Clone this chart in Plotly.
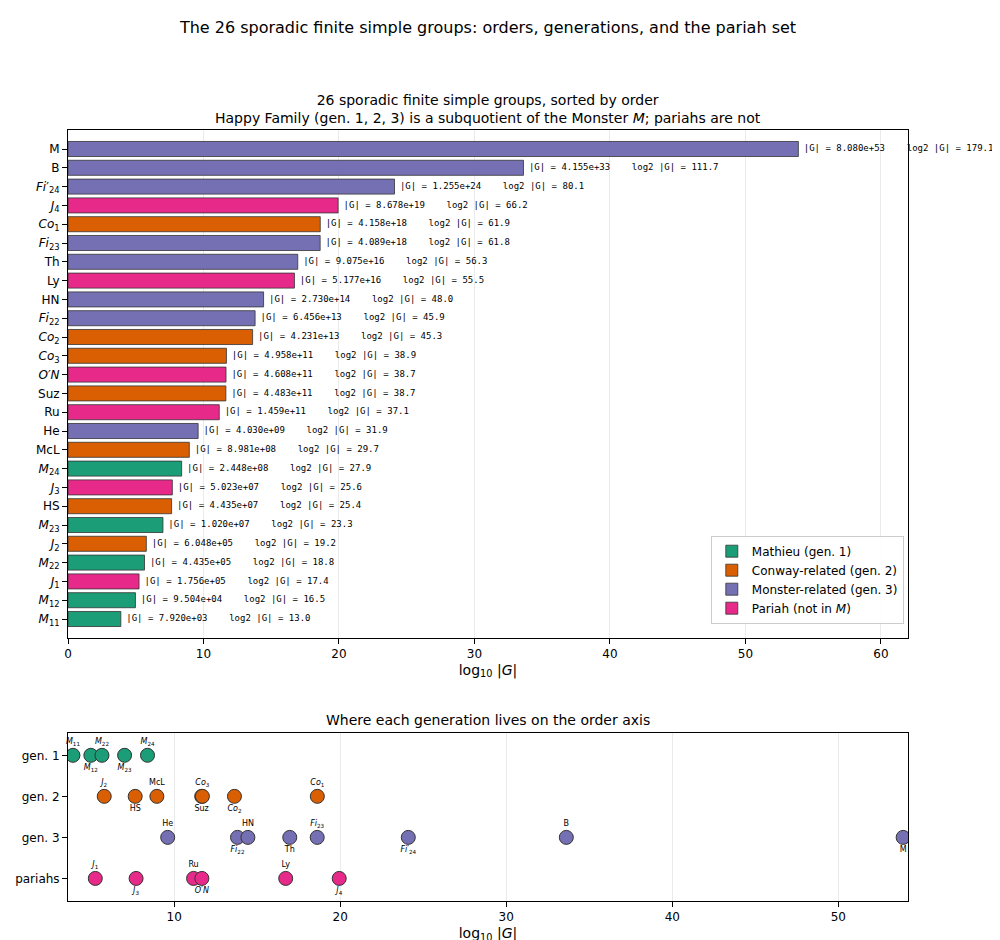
import numpy as np
import pandas as pd
import plotly.graph_objects as go

# sporadic groups: label, order, generation
rows = [
    ("M", "M", 8.080e53, 3), ("B", "B", 4.155e33, 3),
    ("Fi24", "<i>Fi</i>′<sub>24</sub>", 1.255e24, 3), ("J4", "<i>J</i><sub>4</sub>", 8.678e19, 0),
    ("Co1", "<i>Co</i><sub>1</sub>", 4.158e18, 2), ("Fi23", "<i>Fi</i><sub>23</sub>", 4.089e18, 3),
    ("Th", "Th", 9.075e16, 3), ("Ly", "Ly", 5.177e16, 0),
    ("HN", "HN", 2.730e14, 3), ("Fi22", "<i>Fi</i><sub>22</sub>", 6.456e13, 3),
    ("Co2", "<i>Co</i><sub>2</sub>", 4.231e13, 2), ("Co3", "<i>Co</i><sub>3</sub>", 4.958e11, 2),
    ("ON", "<i>O′N</i>", 4.608e11, 0), ("Suz", "Suz", 4.483e11, 2),
    ("Ru", "Ru", 1.459e11, 0), ("He", "He", 4.030e9, 3),
    ("McL", "McL", 8.981e8, 2), ("M24", "<i>M</i><sub>24</sub>", 2.448e8, 1),
    ("J3", "<i>J</i><sub>3</sub>", 5.023e7, 0), ("HS", "HS", 4.435e7, 2),
    ("M23", "<i>M</i><sub>23</sub>", 1.020e7, 1), ("J2", "<i>J</i><sub>2</sub>", 6.048e5, 2),
    ("M22", "<i>M</i><sub>22</sub>", 4.435e5, 1), ("J1", "<i>J</i><sub>1</sub>", 1.756e5, 0),
    ("M12", "<i>M</i><sub>12</sub>", 9.504e4, 1), ("M11", "<i>M</i><sub>11</sub>", 7.920e3, 1),
]
df = pd.DataFrame(rows, columns=["key", "label", "order", "gen"])
df["log10"] = np.log10(df["order"])
df["log2"] = np.log2(df["order"])

gens = {
    1: ("Mathieu (gen. 1)", "#1b9e77", "gen. 1"),
    2: ("Conway-related (gen. 2)", "#d95f02", "gen. 2"),
    3: ("Monster-related (gen. 3)", "#7570b3", "gen. 3"),
    0: ("Pariah (not in <i>M</i>)", "#e7298a", "pariahs"),
}
ypos = {1: 3, 2: 2, 3: 1, 0: 0}
sp = "\u00a0"

fig = go.Figure()

# ---- top panel: horizontal bars ----
for g in [1, 2, 3, 0]:
    d = df[df.gen == g]
    fig.add_trace(go.Bar(
        x=d["log10"], y=d["label"], orientation="h", name=gens[g][0],
        marker=dict(color=gens[g][1], line=dict(color="#333", width=0.8)),
        width=0.8, xaxis="x", yaxis="y",
    ))

texts = [f"|G| = {o:.3e}{sp*4}log2 |G| = {l:.1f}" for o, l in zip(df["order"], df["log2"])]
fig.add_trace(go.Scatter(
    x=df["log10"] + 0.4, y=df["label"], mode="text", text=texts,
    textposition="middle right", textfont=dict(family="DejaVu Sans Mono", size=9, color="black"),
    showlegend=False, cliponaxis=False, hoverinfo="skip", xaxis="x", yaxis="y",
))

# ---- bottom panel: dot strip ----
for g in [1, 2, 3, 0]:
    d = df[df.gen == g].sort_values("log10").reset_index(drop=True)
    y = [ypos[g]] * len(d)
    fig.add_trace(go.Scatter(
        x=d["log10"], y=y, mode="markers", showlegend=False,
        marker=dict(size=14, color=gens[g][1], line=dict(color="#333", width=1)),
        xaxis="x2", yaxis="y2",
    ))
    up = d.iloc[::2]
    dn = d.iloc[1::2]
    fig.add_trace(go.Scatter(
        x=up["log10"], y=[ypos[g] + 0.22] * len(up), mode="text", text=up["label"],
        textposition="top center", textfont=dict(size=8, color="black"),
        showlegend=False, cliponaxis=False, xaxis="x2", yaxis="y2",
    ))
    fig.add_trace(go.Scatter(
        x=dn["log10"], y=[ypos[g] - 0.22] * len(dn), mode="text", text=dn["label"],
        textposition="bottom center", textfont=dict(size=8, color="black"),
        showlegend=False, cliponaxis=False, xaxis="x2", yaxis="y2",
    ))

axis_style = dict(showline=True, linecolor="black", mirror=True, ticks="outside",
                  tickcolor="black", showgrid=True, gridcolor="#ebebeb", zeroline=False,
                  automargin=False)

fig.update_layout(
    width=1000, height=940,
    margin=dict(l=60, r=100, t=0, b=0),
    paper_bgcolor="white", plot_bgcolor="white",
    font=dict(family="DejaVu Sans", size=12, color="black"),
    barmode="overlay",
    title=dict(text="The 26 sporadic finite simple groups: orders, generations, and the pariah set",
               x=0.5, xref="paper", y=0.985, yanchor="top", font=dict(size=16)),
    xaxis=dict(domain=[0, 1], anchor="y", range=[0, 62], dtick=10,
               title=dict(text="log<sub>10</sub> |<i>G</i>|", standoff=4), **axis_style),
    yaxis=dict(domain=[0.33, 0.87], anchor="x",
               categoryorder="array", categoryarray=list(df["label"]),
               range=[len(df) - 0.0, -1.0], **{**axis_style, "showgrid": False}),
    xaxis2=dict(domain=[0, 1], anchor="y2", range=[3.6, 54.2], dtick=10,
                title=dict(text="log<sub>10</sub> |<i>G</i>|", standoff=4), **axis_style),
    yaxis2=dict(domain=[0.05, 0.229], anchor="x2", range=[-0.55, 3.55],
                tickvals=[3, 2, 1, 0], ticktext=["gen. 1", "gen. 2", "gen. 3", "pariahs"],
                **{**axis_style, "showgrid": False}),
    legend=dict(x=0.995, y=0.345, xanchor="right", yanchor="bottom",
                bordercolor="#ccc", borderwidth=1, bgcolor="rgba(255,255,255,0.9)",
                font=dict(size=12), traceorder="normal"),
    annotations=[
        dict(text="26 sporadic finite simple groups, sorted by order<br>"
                  "Happy Family (gen. 1, 2, 3) is a subquotient of the Monster <i>M</i>; pariahs are not",
             x=0.5, y=0.872, xref="paper", yref="paper", xanchor="center", yanchor="bottom",
             showarrow=False, font=dict(size=14)),
        dict(text="Where each generation lives on the order axis",
             x=0.5, y=0.232, xref="paper", yref="paper", xanchor="center", yanchor="bottom",
             showarrow=False, font=dict(size=14)),
    ],
)

fig.write_html("out.html")
